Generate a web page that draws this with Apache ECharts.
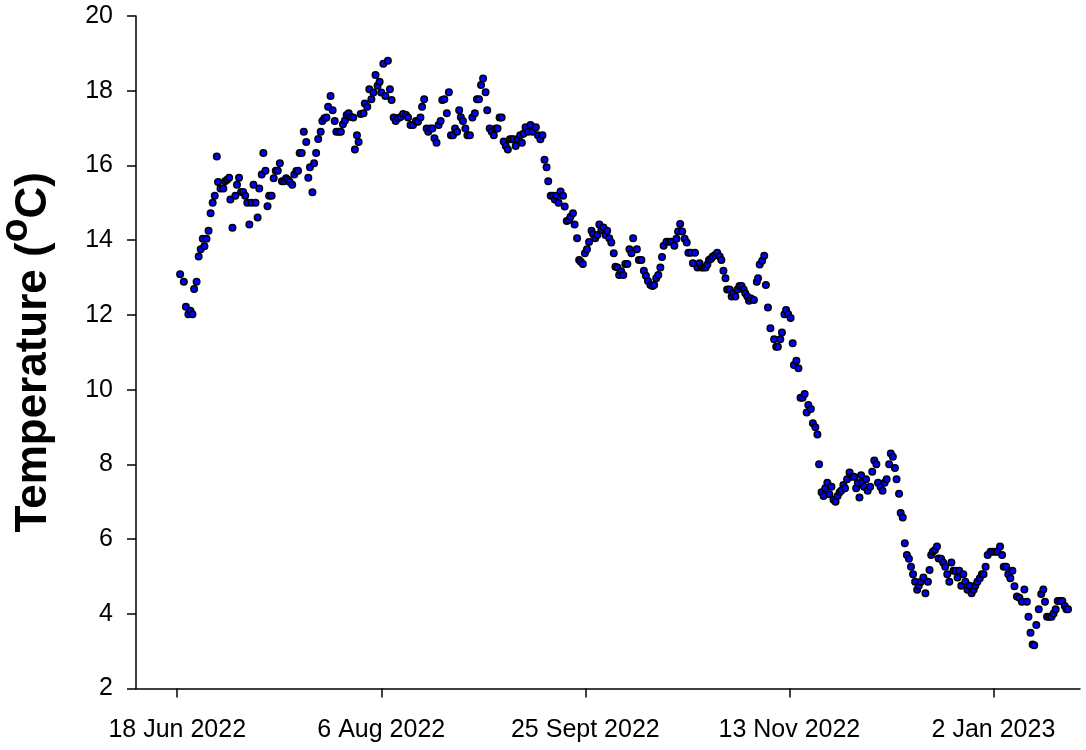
<!DOCTYPE html>
<html><head><meta charset="utf-8">
<script src="https://cdn.jsdelivr.net/npm/echarts@6/dist/echarts.min.js"></script>
<style>html,body{margin:0;padding:0;background:#fff}#c{width:1086px;height:750px}</style>
</head><body><div id="c"></div>
<script>
// x values: days since 18 Jun 2022
const tickDays = [0, 49.5, 99, 148.5, 198];
const tickLabels = ['18 Jun 2022', '6 Aug 2022', '25 Sept 2022', '13 Nov 2022', '2 Jan 2023'];
const yTicks = [2, 4, 6, 8, 10, 12, 14, 16, 18, 20];

const days = [
0.7,1.6,2.1,2.7,3.2,3.7,4.1,4.7,5.2,5.7,6.2,6.6,7.1,7.6,8.1,8.6,9.1,9.6,9.9,10.5,
11.2,11.6,12.1,12.6,12.9,13.4,14.1,14.5,15.0,15.5,16.0,16.5,17.0,17.5,18.0,18.5,19.0,19.5,19.9,20.5,
20.9,21.4,21.9,22.3,22.9,23.4,23.9,24.4,24.9,25.4,25.9,26.4,26.85,27.3,27.9,28.4,28.9,29.3,29.7,30.2,
30.7,31.3,31.8,32.2,32.8,33.2,33.7,34.2,34.8,35.2,35.7,36.2,36.6,37.2,37.7,38.2,38.6,39.2,39.7,40.2,
40.7,41.1,41.6,42.1,42.7,43.1,43.6,44.0,44.5,45.2,45.5,46.1,46.6,47.1,47.6,48.1,48.6,49.1,49.5,50.0,
50.5,51.1,51.6,52.0,52.5,53.0,53.6,54.2,54.8,55.5,56.0,56.6,57.2,57.9,58.4,59.0,59.4,59.9,60.5,60.9,
61.4,61.9,62.4,62.9,63.4,63.9,64.3,64.8,65.4,65.9,66.4,66.9,67.4,67.9,68.4,68.8,69.3,69.9,70.4,71.0,
71.6,72.2,72.7,73.2,73.7,74.2,74.8,75.2,75.8,76.3,76.8,77.3,77.7,78.2,78.7,79.2,79.7,80.2,80.7,81.1,
81.6,82.1,82.6,83.2,83.6,84.0,84.5,85.1,85.7,86.2,87.0,87.5,88.1,88.6,89.1,89.6,90.0,90.6,91.2,91.6,
92.0,92.5,93.0,93.6,94.0,94.5,95.0,95.4,96.0,96.4,97.0,97.5,97.9,98.4,98.9,99.4,99.9,100.5,100.9,101.4,
101.9,102.4,102.9,103.4,103.9,104.3,104.8,105.3,105.9,106.3,106.8,107.2,107.7,108.2,108.7,109.2,109.7,110.2,110.6,111.5,
112.0,112.6,113.2,113.7,114.2,114.8,115.3,115.7,116.2,116.7,117.2,117.6,118.0,118.7,119.3,119.9,120.6,121.1,121.5,122.0,
122.5,123.1,123.6,124.0,124.6,125.1,125.6,126.2,126.7,127.2,127.6,128.2,128.6,129.0,129.5,129.9,130.5,131.0,131.6,132.0,
132.5,133.0,133.4,134.0,134.5,134.9,135.4,135.9,136.4,136.9,137.4,137.8,138.3,138.7,139.2,139.9,140.6,140.9,141.3,141.9,
142.4,142.8,143.3,143.9,144.8,145.3,145.7,146.3,146.7,147.3,147.7,148.2,148.8,149.3,149.6,150.2,150.7,151.2,151.7,152.2,
152.7,153.1,153.7,154.2,154.8,155.3,155.7,156.3,156.8,157.2,157.7,158.2,158.7,159.2,159.7,160.2,160.7,161.1,161.6,162.0,
162.5,163.1,163.7,164.2,164.7,165.1,165.5,165.9,166.2,166.6,167.1,167.5,168.1,168.6,169.1,169.6,170.0,170.6,171.1,171.6,
172.1,172.7,173.1,173.6,174.1,174.5,175.1,175.5,176.0,176.5,177.0,177.5,178.0,178.5,179.0,179.5,179.9,180.4,181.0,181.5,
182.1,182.5,182.9,183.3,183.8,184.3,184.7,185.3,185.8,186.3,186.8,187.3,187.8,188.3,188.8,189.3,189.7,190.2,190.7,191.2,
191.7,192.2,192.7,193.2,193.6,194.1,194.7,195.2,195.6,196.1,196.6,197.3,197.8,198.4,199.0,199.6,200.1,200.5,201.1,201.6,
202.1,202.6,203.1,203.7,204.3,204.9,205.5,206.1,206.5,207.0,207.5,207.9,208.4,209.0,209.6,210.1,210.5,211.0,211.6,212.1,
212.6,213.1,213.6,214.2,214.7,215.3,215.7,216.1
];
const temps = [
13.09,12.89,12.22,12.02,12.11,12.02,12.69,12.89,13.56,13.76,14.04,13.84,14.04,14.25,14.72,15.00,15.19,16.24,15.56,15.38,
15.38,15.58,15.62,15.67,15.09,14.33,15.19,15.48,15.67,15.29,15.29,15.19,15.00,14.42,15.00,15.48,15.00,14.61,15.38,15.76,
16.33,15.86,14.91,15.19,15.19,15.66,15.86,15.86,16.06,15.58,15.58,15.66,15.62,15.56,15.48,15.76,15.85,15.86,16.33,16.33,
16.90,16.63,15.67,15.95,15.28,16.06,16.33,16.71,16.90,17.19,17.26,17.28,17.57,17.86,17.48,17.19,16.90,16.90,16.90,17.10,
17.20,17.35,17.40,17.30,17.28,16.43,16.81,16.63,17.38,17.40,17.66,17.57,18.04,17.77,17.95,18.42,18.13,18.24,17.95,18.72,
17.86,18.80,18.04,17.75,17.28,17.19,17.26,17.30,17.38,17.35,17.28,17.08,17.08,17.19,17.17,17.28,17.57,17.77,16.99,16.90,
16.99,16.99,16.73,16.61,17.08,17.19,17.75,17.77,17.40,17.96,16.81,16.81,16.99,16.90,17.48,17.29,17.19,16.99,16.81,16.81,
17.28,17.40,17.77,17.77,18.15,18.33,17.96,17.48,16.99,16.90,16.81,16.99,16.99,17.28,17.28,16.64,16.52,16.43,16.70,16.70,
16.70,16.52,16.70,16.81,16.61,16.85,17.02,16.90,17.08,16.90,17.02,16.81,16.70,16.81,16.15,15.95,15.58,15.19,15.19,15.09,
15.19,15.00,15.30,15.19,14.90,14.51,14.54,14.63,14.72,14.42,14.05,13.47,13.42,13.36,13.65,13.76,13.95,14.25,14.16,14.05,
14.14,14.42,14.27,14.34,14.14,14.25,14.05,13.94,13.65,13.29,13.27,13.07,13.17,13.07,13.36,13.36,13.76,13.65,14.05,13.76,
13.47,13.47,13.18,13.05,12.91,12.80,12.77,12.80,12.98,13.07,13.27,13.55,13.85,13.96,13.96,13.96,13.85,14.04,14.23,14.43,
14.23,14.04,13.94,13.66,13.66,13.38,13.66,13.27,13.38,13.27,13.27,13.27,13.35,13.47,13.50,13.56,13.60,13.66,13.56,13.47,
13.18,12.98,12.68,12.68,12.49,12.58,12.49,12.68,12.77,12.77,12.68,12.58,12.49,12.38,12.44,12.40,12.89,12.98,13.35,13.45,
13.58,12.80,12.20,11.64,11.35,11.15,11.15,11.35,11.53,12.02,12.13,12.02,11.92,11.24,10.66,10.77,10.57,9.78,9.78,9.88,
9.39,9.59,9.48,9.10,8.99,8.80,8.00,7.25,7.15,7.36,7.51,7.20,7.40,7.05,7.00,7.15,7.25,7.30,7.45,7.36,
7.60,7.78,7.67,7.67,7.36,7.50,7.11,7.71,7.51,7.40,7.60,7.29,7.40,7.80,8.10,8.00,7.51,7.40,7.29,7.51,
7.60,8.00,8.29,8.20,7.90,7.60,7.21,6.70,6.58,5.89,5.57,5.47,5.26,5.06,4.86,4.64,4.75,4.86,4.97,4.55,
4.86,5.17,5.57,5.66,5.71,5.80,5.48,5.47,5.37,5.26,5.06,4.86,5.37,5.15,5.15,4.97,5.15,4.75,5.06,4.86,
4.64,4.75,4.55,4.64,4.75,4.86,4.95,5.06,5.06,5.26,5.57,5.66,5.66,5.66,5.66,5.80,5.57,5.26,5.26,5.06,
4.95,5.15,4.74,4.46,4.43,4.32,4.65,4.32,3.92,3.49,3.18,3.16,3.70,4.12,4.53,4.65,4.32,3.92,3.92,3.92,
4.01,4.12,4.34,4.34,4.34,4.21,4.12,4.12
];

const FONT = '"Liberation Sans", Arial, sans-serif';
const data = days.map((d, i) => [d, temps[i]]);
const chart = echarts.init(document.getElementById('c'), null, { renderer: 'canvas' });
chart.setOption({
  animation: false,
  backgroundColor: '#fff',
  grid: { left: 136, right: 6, top: 16, bottom: 61.5, containLabel: false, outerBoundsMode: 'none' },
  xAxis: {
    type: 'value', min: -10, max: 219,
    axisLine: { show: true, onZero: false, lineStyle: { color: '#000', width: 1.5 } },
    axisTick: { show: true, inside: false, length: 9, customValues: tickDays, lineStyle: { color: '#000', width: 1.5 } },
    axisLabel: {
      customValues: tickDays, margin: 29, fontSize: 25, color: '#000', fontFamily: FONT,
      formatter: v => { const i = tickDays.findIndex(t => Math.abs(t - v) < 0.01); return i >= 0 ? tickLabels[i] : ''; }
    },
    splitLine: { show: false }
  },
  yAxis: {
    type: 'value', min: yTicks[0], max: yTicks[yTicks.length - 1], interval: 2,
    axisLine: { show: true, onZero: false, lineStyle: { color: '#000', width: 1.5 } },
    axisTick: { show: true, inside: false, length: 9, lineStyle: { color: '#000', width: 1.5 } },
    axisLabel: { margin: 23, fontSize: 25, color: '#000', fontFamily: FONT },
    splitLine: { show: false },
    name: '{a|Temperature (}{s|o}{a|C)}',
    nameLocation: 'middle', nameGap: 80,
    nameTextStyle: {
      rich: {
        a: { fontSize: 44, fontWeight: 'bold', fontFamily: FONT, color: '#000', verticalAlign: 'bottom' },
        s: { fontSize: 39, fontWeight: 'bold', fontFamily: FONT, color: '#000', verticalAlign: 'bottom', padding: [0, 0, 20, 0] }
      }
    }
  },
  series: [{
    type: 'scatter', data: data, symbol: 'circle', symbolSize: 6.5,
    itemStyle: { color: '#0000ff', borderColor: '#000', borderWidth: 1.5, opacity: 1 }
  }]
});
</script></body></html>
